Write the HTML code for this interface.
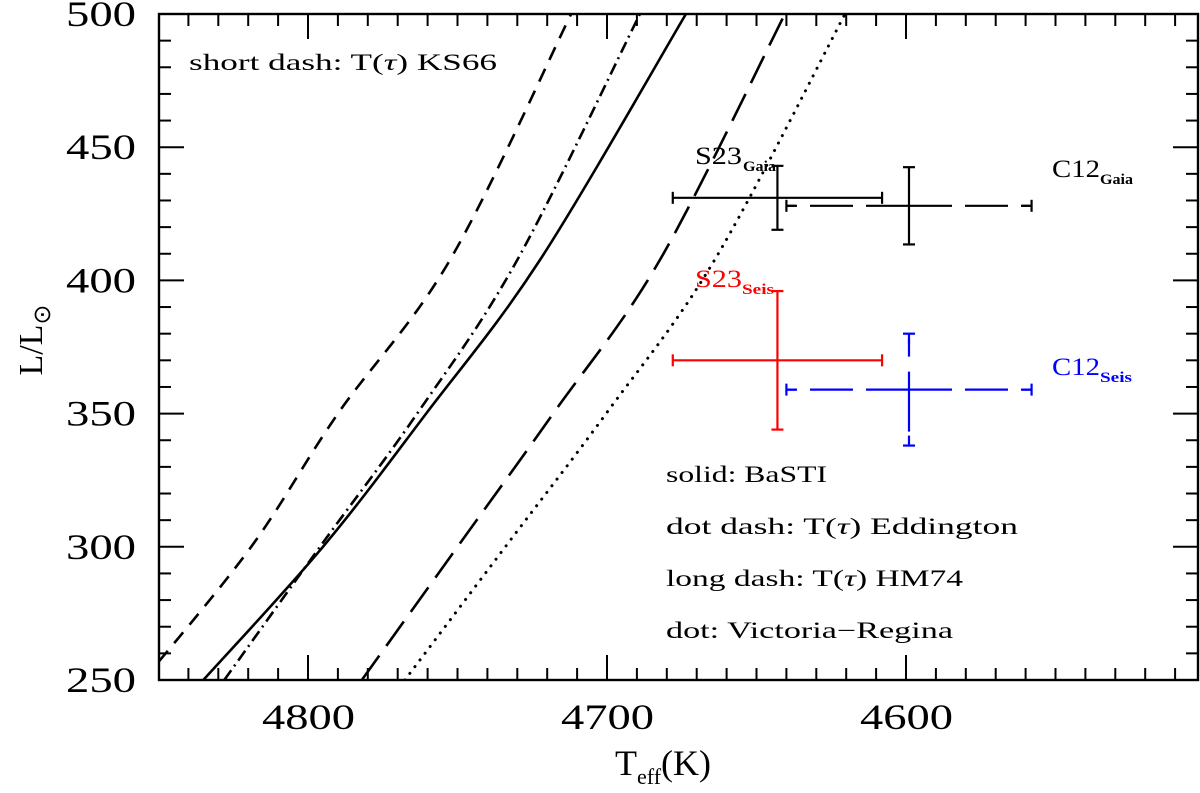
<!DOCTYPE html>
<html><head><meta charset="utf-8"><style>
html,body{margin:0;padding:0;background:#fff}
svg{display:block;font-family:"Liberation Serif",serif}
</style></head><body>
<svg id="chart" width="1200" height="793" viewBox="0 0 1200 793" xmlns="http://www.w3.org/2000/svg">
<defs><clipPath id="plotclip"><rect x="159" y="14" width="1039" height="666"/></clipPath></defs>
<g id="curves" clip-path="url(#plotclip)"></g>
<g id="errs"></g>
<g id="axes"></g>
<text x="189" y="70" font-size="23" textLength="308" lengthAdjust="spacingAndGlyphs">short dash: T(<tspan font-style="italic">τ</tspan>) KS66</text>
<text x="666" y="482" font-size="23" textLength="161" lengthAdjust="spacingAndGlyphs">solid: BaSTI</text>
<text x="666" y="534" font-size="23" textLength="352" lengthAdjust="spacingAndGlyphs">dot dash: T(<tspan font-style="italic">τ</tspan>) Eddington</text>
<text x="666" y="586" font-size="23" textLength="297" lengthAdjust="spacingAndGlyphs">long dash: T(<tspan font-style="italic">τ</tspan>) HM74</text>
<text x="666" y="638" font-size="23" textLength="287" lengthAdjust="spacingAndGlyphs">dot: Victoria−Regina</text>
<g><text x="695" y="164" font-size="25" textLength="47" lengthAdjust="spacingAndGlyphs">S23</text><text x="743" y="171" font-size="15" font-weight="bold" textLength="33" lengthAdjust="spacingAndGlyphs">Gaia</text></g>
<g><text x="1052" y="177" font-size="25" textLength="48" lengthAdjust="spacingAndGlyphs">C12</text><text x="1100" y="184" font-size="15" font-weight="bold" textLength="33" lengthAdjust="spacingAndGlyphs">Gaia</text></g>
<g fill="#f00"><text x="695" y="287" font-size="25" textLength="47" lengthAdjust="spacingAndGlyphs">S23</text><text x="742" y="294" font-size="15" font-weight="bold" textLength="32" lengthAdjust="spacingAndGlyphs">Seis</text></g>
<g fill="#00f"><text x="1052" y="375" font-size="25" textLength="48" lengthAdjust="spacingAndGlyphs">C12</text><text x="1100" y="382" font-size="15" font-weight="bold" textLength="32" lengthAdjust="spacingAndGlyphs">Seis</text></g>
<text transform="translate(42,340) rotate(-90)" font-size="34" text-anchor="middle">L/L<tspan font-size="24" dy="8">⊙</tspan></text>
<text x="615" y="775" font-size="36">T<tspan font-size="22" dy="9">eff</tspan><tspan dy="-9">(K)</tspan></text>
</svg>
<script>
const lum = [250, 300, 350, 407.7, 500];
const shortDashT = [4855, 4819, 4790, 4752.5, 4712];
const dotDashT = [4828, 4796, 4763.5, 4730, 4689];
const solidT = [4835, 4795, 4760.5, 4722.4, 4673.6];
const longDashT = [4782, 4750, 4718, 4682.3, 4640.5];
const dotT = [4767.6, 4734, 4700.3, 4664, 4620.4];
const obsNames = ['s23-gaia','c12-gaia','s23-seis','c12-seis'];
const obsT = [4643, 4599, 4643, 4599];
const obsTerr = [35, 41, 35, 41];
const obsL = [431, 428, 370, 359];
const obsLerr = [12, 14.5, 26, 21];
const obsColor = ['#000','#000','#f00','#00f'];
const obsDashH = [false, true, false, true];
const obsDashV = [false, false, false, true];
const xTicks = [4800, 4700, 4600];
const yTicks = [250, 300, 350, 400, 450, 500];

const NS='http://www.w3.org/2000/svg';
const X0=159,X1=1198,Y0=14,Y1=680;
const xs=T=>308+(4800-T)*2.99;
const ys=L=>Y0+(500-L)*(Y1-Y0)/250;
function mk(tag,attrs,parent){const e=document.createElementNS(NS,tag);for(const k in attrs)e.setAttribute(k,attrs[k]);parent.appendChild(e);return e;}
function smooth(pts){let d='M'+pts[0][0]+','+pts[0][1];for(let i=0;i<pts.length-1;i++){const p0=pts[Math.max(0,i-1)],p1=pts[i],p2=pts[i+1],p3=pts[Math.min(pts.length-1,i+2)];
const c1=[p1[0]+(p2[0]-p0[0])/6,p1[1]+(p2[1]-p0[1])/6],c2=[p2[0]-(p3[0]-p1[0])/6,p2[1]-(p3[1]-p1[1])/6];d+=' C'+c1+' '+c2+' '+p2;}return d;}
const cg=document.getElementById('curves');
const series=[[shortDashT,'14 10','short-dash-track'],[dotDashT,'12 5 2 5','dot-dash-track'],[solidT,'','solid-track'],[longDashT,'30 12','long-dash-track'],[dotT,'','dot-track']];
series.forEach(s=>{
 const pts=s[0].map((T,i)=>[xs(T),ys(lum[i])]);
 const p=mk('path',{d:smooth(pts),fill:'none',stroke:'#000','stroke-width':2.6},cg);
 if(s[1])p.setAttribute('stroke-dasharray',s[1]);
 if(s[2]==='dot-track'){p.setAttribute('stroke-width',3);p.setAttribute('stroke-linecap','round');p.setAttribute('stroke-dasharray','0.1 8.3');}
 
 
});
const eg=document.getElementById('errs');
function seg(g,x1,y1,x2,y2,dash){const l=mk('line',{x1:x1,y1:y1,x2:x2,y2:y2},g);if(dash)l.setAttribute('stroke-dasharray',dash);}
obsT.forEach((T,i)=>{
 const g=mk('g',{stroke:obsColor[i],'stroke-width':2.2,fill:'none'},eg);
 
 
 const xl=xs(T+obsTerr[i]),xr=xs(T-obsTerr[i]),yc=ys(obsL[i]),xc=xs(T),yt=ys(obsL[i]+obsLerr[i]),yb=ys(obsL[i]-obsLerr[i]);
 const dh=obsDashH[i]?'43 13':'',dvu=obsDashV[i]?'18 15':'',dvd=obsDashV[i]?'42 15':'';
 seg(g,xc,yc,xl,yc,dh);seg(g,xc,yc,xr,yc,dh);
 seg(g,xc,yc,xc,yt,dvu);seg(g,xc,yc,xc,yb,dvd);
 if(obsDashH[i]){seg(g,xl,yc,xl+10,yc,'');seg(g,xr,yc,xr-10,yc,'');}
 if(obsDashV[i]){seg(g,xc,yt,xc,yt+10,'');seg(g,xc,yb,xc,yb-10,'');}
 mk('line',{x1:xl,y1:yc-6,x2:xl,y2:yc+6},g);mk('line',{x1:xr,y1:yc-6,x2:xr,y2:yc+6},g);
 mk('line',{x1:xc-6,y1:yt,x2:xc+6,y2:yt},g);mk('line',{x1:xc-6,y1:yb,x2:xc+6,y2:yb},g);
});
const ag=document.getElementById('axes');
mk('rect',{x:X0,y:Y0,width:X1-X0,height:Y1-Y0,fill:'none',stroke:'#000','stroke-width':2.4},ag);
for(let T=4850;T>=4500;T-=10){const x=xs(T);if(x<=X0+1||x>=X1-1)continue;const len=(T%100===0)?25:12;
 mk('line',{x1:x,y1:Y1,x2:x,y2:Y1-len,stroke:'#000','stroke-width':2},ag);mk('line',{x1:x,y1:Y0,x2:x,y2:Y0+len,stroke:'#000','stroke-width':2},ag);}
for(let L=260;L<500;L+=10){const y=ys(L);const len=(L%50===0)?25:12;
 mk('line',{x1:X0,y1:y,x2:X0+len,y2:y,stroke:'#000','stroke-width':2},ag);mk('line',{x1:X1,y1:y,x2:X1-len,y2:y,stroke:'#000','stroke-width':2},ag);}
xTicks.forEach(T=>{const t=mk('text',{x:xs(T)-46,y:729,'font-size':36,textLength:93,lengthAdjust:'spacingAndGlyphs'},ag);t.textContent=T;
 
 });
yTicks.forEach(L=>{const t=mk('text',{x:66,y:ys(L)+12,'font-size':36,textLength:70,lengthAdjust:'spacingAndGlyphs'},ag);t.textContent=L;
 
 });
</script>
</body></html>
